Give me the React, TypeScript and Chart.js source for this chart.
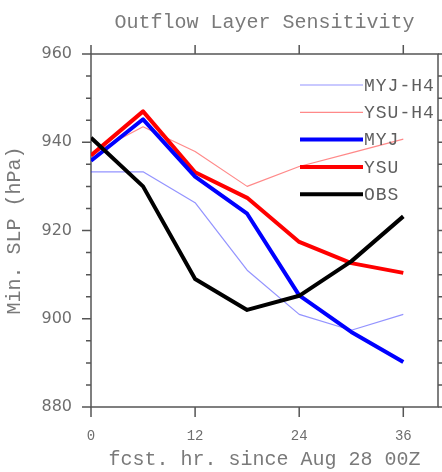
import React, { useEffect, useRef } from "react";
import { Chart, registerables } from "chart.js";

Chart.register(...registerables);

const TITLE = "Outflow Layer Sensitivity";
const X_TITLE = "fcst. hr. since Aug 28 00Z";
const Y_TITLE = "Min. SLP (hPa)";

const HOURS = [0, 6, 12, 18, 24, 30, 36];
const X_TICKS = [0, 12, 24, 36];
const Y_TICKS = [880, 900, 920, 940, 960];
const X_MIN = 0;
const X_MAX = 40;
const Y_MIN = 880;
const Y_MAX = 960;
const Y_MINOR_STEP = 5;

const SERIES_LABELS = ["MYJ-H4", "YSU-H4", "MYJ", "YSU", "OBS"];
const MYJ_H4 = [933.3, 933.3, 926.3, 911.0, 901.0, 897.4, 901.0];
const YSU_H4 = [937.3, 943.5, 937.9, 930.0, 934.5, 937.6, 940.7];
const MYJ = [935.8, 945.2, 932.2, 923.8, 905.3, 897.0, 890.2];
const YSU = [937.0, 947.0, 933.2, 927.4, 917.4, 912.6, 910.4];
const OBS = [941.0, 930.0, 909.0, 902.0, 905.2, 913.0, 923.2];

const SERIES_VALUES = [MYJ_H4, YSU_H4, MYJ, YSU, OBS];
const SERIES_COLORS = [
  "rgba(40,40,255,0.5)",
  "rgba(255,40,40,0.55)",
  "#0000ff",
  "#ff0000",
  "#000000",
];
const SERIES_WIDTHS = [1.2, 1.2, 4, 4, 4];
const SERIES_ORDER = [4, 3, 1, 2, 0];

const FRAME_COLOR = "#555555";
const TEXT_COLOR = "#7a7a7a";
const TICK_TEXT_COLOR = "#6e6e6e";

const framePlugin = {
  id: "ncarFrame",
  beforeDatasetsDraw(chart: any) {
    const { ctx, chartArea } = chart;
    const { left, right, top, bottom } = chartArea;
    const xs = chart.scales.x;
    const ys = chart.scales.y;
    ctx.save();
    ctx.strokeStyle = FRAME_COLOR;
    ctx.lineWidth = 1.5;
    ctx.strokeRect(left, top, right - left, bottom - top);
    ctx.beginPath();
    X_TICKS.forEach((v) => {
      const px = xs.getPixelForValue(v);
      ctx.moveTo(px, bottom);
      ctx.lineTo(px, bottom + 10);
      ctx.moveTo(px, top);
      ctx.lineTo(px, top - 9);
    });
    for (let v = Y_MIN; v <= Y_MAX; v += Y_MINOR_STEP) {
      const py = ys.getPixelForValue(v);
      const major = Y_TICKS.includes(v);
      const len = major ? 9 : 5;
      ctx.moveTo(left, py);
      ctx.lineTo(left - len, py);
      ctx.moveTo(right, py);
      ctx.lineTo(right + len, py);
    }
    ctx.stroke();
    ctx.restore();
  },
};

const legendPlugin = {
  id: "ncarLegend",
  afterDatasetsDraw(chart: any) {
    const { ctx, chartArea } = chart;
    const x0 = chartArea.left + 209;
    const x1 = chartArea.left + 272;
    const y0 = chartArea.top + 31;
    const dy = 27.3;
    ctx.save();
    ctx.font = "18px 'Liberation Mono'";
    (ctx as any).letterSpacing = "1px";
    ctx.textBaseline = "middle";
    ctx.textAlign = "left";
    chart.data.datasets.forEach((ds: any, i: number) => {
      const y = y0 + i * dy;
      ctx.beginPath();
      ctx.strokeStyle = ds.borderColor;
      ctx.lineWidth = ds.borderWidth;
      ctx.moveTo(x0, y);
      ctx.lineTo(x1, y);
      ctx.stroke();
      ctx.fillStyle = "#5e5e5e";
      ctx.fillText(ds.label, x1 + 1, y + 1);
    });
    ctx.restore();
  },
};

export default function App() {
  const canvasRef = useRef<HTMLCanvasElement | null>(null);

  useEffect(() => {
    document.body.style.margin = "0";
    const canvas = canvasRef.current;
    if (!canvas) return;
    const datasets = SERIES_LABELS.map((label, i) => ({
      label,
      data: HOURS.map((h, j) => ({ x: h, y: SERIES_VALUES[i][j] })),
      borderColor: SERIES_COLORS[i],
      backgroundColor: SERIES_COLORS[i],
      borderWidth: SERIES_WIDTHS[i],
      pointRadius: 0,
      tension: 0,
      fill: false,
      borderJoinStyle: "round" as const,
      order: SERIES_ORDER[i],
    }));

    const chart = new Chart(canvas, {
      type: "line",
      data: { datasets },
      options: {
        animation: false,
        responsive: false,
        devicePixelRatio: 1,
        layout: { padding: 0 },
        plugins: {
          legend: { display: false },
          tooltip: { enabled: false },
          title: {
            display: true,
            text: TITLE,
            fullSize: false,
            color: TEXT_COLOR,
            font: { family: "'Liberation Mono'", size: 20, weight: "normal" },
            padding: { top: 11, bottom: 0 },
          },
        },
        scales: {
          x: {
            type: "linear",
            position: "bottom",
            min: X_MIN,
            max: X_MAX,
            afterBuildTicks: (a: any) => {
              a.ticks = X_TICKS.map((v) => ({ value: v }));
            },
            ticks: {
              color: TICK_TEXT_COLOR,
              font: { family: "'Liberation Mono'", size: 14 },
              padding: 21,
              maxRotation: 0,
              autoSkip: false,
            },
            grid: { display: false, drawTicks: false },
            border: { display: false },
            title: {
              display: true,
              text: X_TITLE,
              color: TEXT_COLOR,
              font: { family: "'Liberation Mono'", size: 20 },
              padding: { top: 0, bottom: 0 },
            },
            afterFit: (a: any) => {
              a.height = 65;
            },
          },
          x2: {
            type: "linear",
            position: "top",
            min: X_MIN,
            max: X_MAX,
            ticks: { display: false },
            grid: { display: false, drawTicks: false },
            border: { display: false },
            afterFit: (a: any) => {
              a.height = 19;
            },
          },
          y: {
            type: "linear",
            position: "left",
            min: Y_MIN,
            max: Y_MAX,
            afterBuildTicks: (a: any) => {
              a.ticks = Y_TICKS.map((v) => ({ value: v }));
            },
            ticks: {
              color: TICK_TEXT_COLOR,
              font: { family: "'DejaVu Sans'", size: 16 },
              padding: 19,
            },
            grid: { display: false, drawTicks: false },
            border: { display: false },
            title: {
              display: true,
              text: Y_TITLE,
              color: TEXT_COLOR,
              font: { family: "'Liberation Mono'", size: 20 },
              padding: { top: 3, bottom: 0 },
            },
            afterFit: (a: any) => {
              a.width = 91;
            },
          },
          y2: {
            type: "linear",
            position: "right",
            min: Y_MIN,
            max: Y_MAX,
            ticks: { display: false },
            grid: { display: false, drawTicks: false },
            border: { display: false },
            afterFit: (a: any) => {
              a.width = 4;
            },
          },
        },
      },
      plugins: [framePlugin, legendPlugin],
    });
    return () => chart.destroy();
  }, []);

  return (
    <div style={{ position: "absolute", left: 0, top: 0, width: 442, height: 472 }}>
      <canvas ref={canvasRef} width={442} height={472} />
    </div>
  );
}
